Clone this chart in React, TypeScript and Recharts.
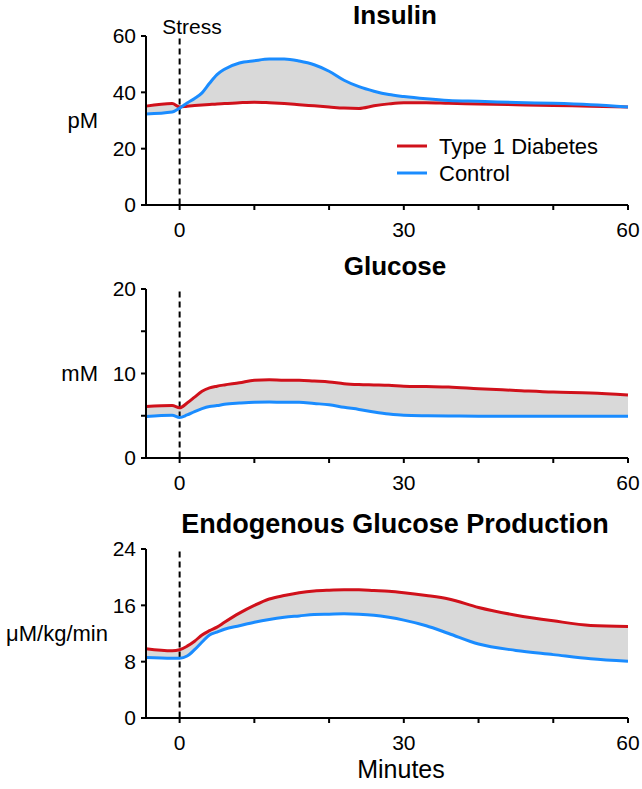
import React from "react";
import {
  ComposedChart, Line, Area, XAxis, YAxis, ReferenceLine,
} from "recharts";

// minutes relative to stress onset
const minutes = [-4.5, -1, 0, 1, 2, 3, 4, 5, 6, 8, 10, 12, 14, 16, 18, 20, 22, 24, 26, 28, 30, 33, 36, 40, 45, 50, 55, 60];

const insulinT1D = [35.1, 36.0, 34.8, 35.1, 35.3, 35.5, 35.7, 35.9, 36.0, 36.3, 36.5, 36.3, 36.0, 35.6, 35.2, 34.8, 34.4, 34.3, 35.2, 35.9, 36.3, 36.3, 36.1, 35.9, 35.6, 35.3, 35.1, 34.8];
const insulinCtrl = [32.3, 33.0, 34.4, 36.2, 37.8, 39.8, 43.2, 46.3, 48.2, 50.4, 51.2, 51.8, 51.8, 51.1, 49.8, 47.5, 44.3, 42.0, 40.4, 39.2, 38.5, 37.7, 37.1, 36.8, 36.4, 36.1, 35.6, 34.8];

const glucoseT1D = [6.1, 6.2, 5.95, 6.5, 7.2, 7.9, 8.3, 8.5, 8.65, 8.9, 9.2, 9.25, 9.2, 9.2, 9.1, 9.0, 8.8, 8.7, 8.65, 8.6, 8.5, 8.45, 8.4, 8.2, 8.0, 7.8, 7.7, 7.45];
const glucoseCtrl = [4.9, 5.05, 4.8, 5.1, 5.5, 5.85, 6.1, 6.2, 6.35, 6.5, 6.6, 6.62, 6.6, 6.6, 6.45, 6.3, 6.0, 5.75, 5.45, 5.2, 5.05, 5.0, 4.98, 4.95, 4.95, 4.95, 4.95, 4.95];

const egpT1D = [9.85, 9.55, 9.7, 10.2, 10.9, 11.8, 12.4, 12.9, 13.6, 14.9, 16.0, 16.9, 17.4, 17.8, 18.05, 18.15, 18.2, 18.2, 18.1, 18.0, 17.8, 17.4, 16.9, 15.7, 14.6, 13.8, 13.15, 13.0];
const egpCtrl = [8.6, 8.5, 8.5, 8.8, 9.7, 10.8, 11.8, 12.2, 12.6, 13.1, 13.6, 14.0, 14.3, 14.5, 14.7, 14.75, 14.8, 14.75, 14.6, 14.3, 13.9, 13.1, 12.0, 10.5, 9.6, 9.0, 8.4, 8.05];

const xTicks = [0, 10, 20, 30, 40, 50, 60];
const xLabelled = [0, 30, 60];
const insulinTicks = [0, 20, 40, 60];
const glucoseTicks = [0, 5, 10, 15, 20];
const glucoseLabelled = [0, 10, 20];
const egpTicks = [0, 8, 16, 24];

const FONT = "'Liberation Sans', Arial, Helvetica, sans-serif";
const RED = "#d0111b";
const BLUE = "#1a8cff";
const BAND = "#d9d9d9";

const seriesNames = ["Type 1 Diabetes", "Control"];
const seriesColors = [RED, BLUE];

type PanelProps = {
  top: number;
  height: number;
  plotTop: number;
  title: string;
  titleY: number;
  titleSize?: number;
  unit: string;
  unitX: number;
  yMax: number;
  yTicks: number[];
  yLabelled?: number[];
  t1d: number[];
  ctrl: number[];
  stress?: boolean;
  legend?: boolean;
  xLabel?: string;
};

function Panel(p: PanelProps) {
  const data = minutes.map((m, i) => ({ m, t1d: p.t1d[i], ctrl: p.ctrl[i], band: [p.ctrl[i], p.t1d[i]] }));
  const plotH = 169;
  const labelled = p.yLabelled ?? p.yTicks;
  return (
    <div style={{ position: "absolute", left: 0, top: p.top }}>
      <ComposedChart width={642} height={p.height} data={data}
                     margin={{ top: p.plotTop, right: 14, bottom: 0, left: 0 }}>
        <XAxis dataKey="m" type="number" domain={[-4.5, 60]} ticks={xTicks}
               height={p.height - p.plotTop - plotH}
               tickFormatter={(v) => (xLabelled.includes(v) ? String(v) : "")}
               tick={{ fontSize: 21, fill: "#000", fontFamily: FONT }}
               tickSize={5} tickMargin={12}
               axisLine={{ stroke: "#000", strokeWidth: 2 }}
               tickLine={{ stroke: "#000", strokeWidth: 2 }} />
        <YAxis type="number" domain={[0, p.yMax]} ticks={p.yTicks} width={146}
               tickFormatter={(v) => (labelled.includes(v) ? String(v) : "")}
               tick={{ fontSize: 21, fill: "#000", fontFamily: FONT }}
               tickSize={5} tickMargin={5}
               axisLine={{ stroke: "#000", strokeWidth: 2 }}
               tickLine={{ stroke: "#000", strokeWidth: 2 }} />
        <Area dataKey="band" type="monotone" fill={BAND} fillOpacity={1} stroke="none"
              isAnimationActive={false} />
        <ReferenceLine segment={[{ x: 0, y: p.yMax * 0.985 }, { x: 0, y: 0 }]}
                       stroke="#000" strokeWidth={2} strokeDasharray="6 4" />
        <Line dataKey="t1d" name={seriesNames[0]} type="monotone" stroke={RED} strokeWidth={3}
              dot={false} isAnimationActive={false} />
        <Line dataKey="ctrl" name={seriesNames[1]} type="monotone" stroke={BLUE} strokeWidth={3}
              dot={false} isAnimationActive={false} />
        {p.legend && seriesNames.map((n, i) => (
          <g key={n}>
            <line x1={397} x2={427} y1={146 + i * 27} y2={146 + i * 27}
                  stroke={seriesColors[i]} strokeWidth={3} />
            <text x={439} y={146 + i * 27} dy="0.36em" fontFamily={FONT} fontSize={22} fill="#000">{n}</text>
          </g>
        ))}
        <text x={395} y={p.titleY} textAnchor="middle" fontFamily={FONT} fontSize={p.titleSize ?? 26}
              fontWeight="bold" fill="#000">{p.title}</text>
        <text x={p.unitX} y={p.plotTop + plotH / 2} dy="0.35em" textAnchor="end"
              fontFamily={FONT} fontSize={22} fill="#000">{p.unit}</text>
        {p.stress && (
          <text x={192} y={34} textAnchor="middle" fontFamily={FONT} fontSize={21} fill="#000">Stress</text>
        )}
        {p.xLabel && (
          <text x={401} y={p.height - 11} textAnchor="middle" fontFamily={FONT} fontSize={25}
                fill="#000">{p.xLabel}</text>
        )}
      </ComposedChart>
    </div>
  );
}

export default function App() {
  return (
    <div style={{ position: "absolute", left: 0, top: 0, width: 642, height: 789, background: "#fff" }}>
      <Panel top={0} height={240} plotTop={36} title="Insulin" titleY={24} unit="pM" unitX={98}
             yMax={60} yTicks={insulinTicks} t1d={insulinT1D} ctrl={insulinCtrl} stress legend />
      <Panel top={240} height={253} plotTop={49} title="Glucose" titleY={35} unit="mM" unitX={98}
             yMax={20} yTicks={glucoseTicks} yLabelled={glucoseLabelled}
             t1d={glucoseT1D} ctrl={glucoseCtrl} />
      <Panel top={493} height={296} plotTop={56} title="Endogenous Glucose Production" titleY={40}
             titleSize={27} unit="μM/kg/min" unitX={108} yMax={24} yTicks={egpTicks}
             t1d={egpT1D} ctrl={egpCtrl} xLabel="Minutes" />
    </div>
  );
}
